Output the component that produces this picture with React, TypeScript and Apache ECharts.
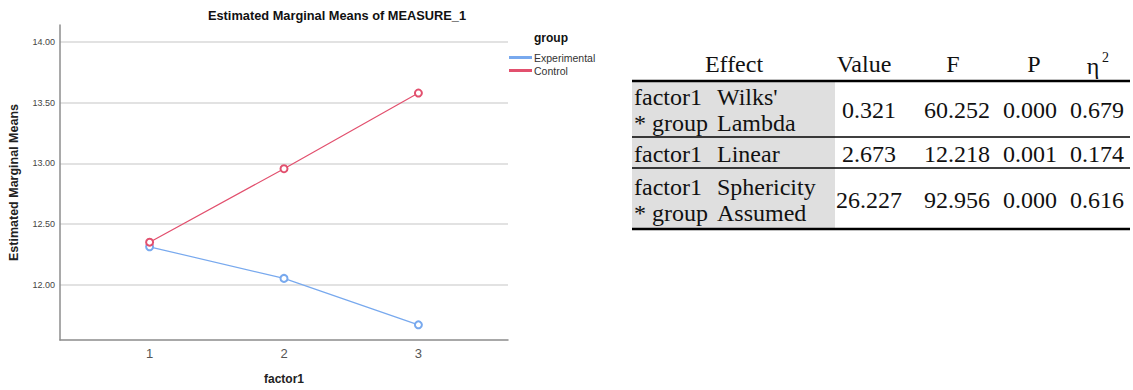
import React, { useEffect, useRef } from "react";
import * as echarts from "echarts";

const chartTitle = "Estimated Marginal Means of MEASURE_1";
const factorLevels = [1, 2, 3];
const experimental = [12.314, 12.054, 11.672];
const control = [12.352, 12.957, 13.58];
const yTicks = [12, 12.5, 13, 13.5, 14];
const groupNames = ["Experimental", "Control"];
const legendTitle = "group";
const xName = "factor1";
const yName = "Estimated Marginal Means";

const tableHeaders = ["Effect", "Value", "F", "P"];
const etaHeader = "η";
const etaSup = "2";
const effectA = [["factor1", "* group"], ["factor1"], ["factor1", "* group"]];
const effectB = [["Wilks'", "Lambda"], ["Linear"], ["Sphericity", "Assumed"]];
const valueCol = ["0.321", "2.673", "26.227"];
const fCol = ["60.252", "12.218", "92.956"];
const pCol = ["0.000", "0.001", "0.000"];
const etaCol = ["0.679", "0.174", "0.616"];

const SANS = "'Liberation Sans', Arial, sans-serif";
const SERIF = "'Liberation Serif', 'Times New Roman', serif";
const BLUE = "#78a9ee";
const RED = "#e2506e";

function buildTable(): any[] {
  const els: any[] = [];
  const left = 632;
  const right = 1130;
  const grayRight = 835;
  const rowBounds = [81, 137, 168, 229];
  const headerY = 64;
  const colA = 634;
  const colB = 717;
  const valueCenters = [869, 957, 1030, 1097];
  const headerCenters = [734, 864, 953, 1034];
  const fs = 24;
  const lh = 26;
  els.push({
    type: "rect",
    shape: { x: left, y: rowBounds[0], width: grayRight - left, height: rowBounds[3] - rowBounds[0] },
    style: { fill: "#dfdfdf" },
    z: 1,
  });
  tableHeaders.forEach((h, i) => {
    els.push({
      type: "text",
      x: headerCenters[i],
      y: headerY,
      style: { text: h, font: `${fs}px ${SERIF}`, fill: "#111", align: "center", verticalAlign: "middle" },
      z: 3,
    });
  });
  els.push({
    type: "text",
    x: 1093,
    y: headerY + 2,
    style: { text: etaHeader, font: `${fs}px ${SERIF}`, fill: "#111", align: "center", verticalAlign: "middle" },
    z: 3,
  });
  els.push({
    type: "text",
    x: 1102,
    y: 57,
    style: { text: etaSup, font: `14px ${SERIF}`, fill: "#111", align: "left", verticalAlign: "middle" },
    z: 3,
  });
  const cols = [valueCol, fCol, pCol, etaCol];
  for (let r = 0; r < 3; r++) {
    const cy = (rowBounds[r] + rowBounds[r + 1]) / 2 + 1;
    [
      { x: colA, lines: effectA[r] },
      { x: colB, lines: effectB[r] },
    ].forEach((cell) => {
      els.push({
        type: "text",
        x: cell.x,
        y: cy,
        style: {
          text: cell.lines.join("\n"),
          font: `${fs}px ${SERIF}`,
          lineHeight: lh,
          fill: "#111",
          align: "left",
          verticalAlign: "middle",
        },
        z: 3,
      });
    });
    cols.forEach((col, c) => {
      els.push({
        type: "text",
        x: valueCenters[c],
        y: cy,
        style: { text: col[r], font: `${fs}px ${SERIF}`, fill: "#111", align: "center", verticalAlign: "middle" },
        z: 3,
      });
    });
  }
  const lines = [
    { y: rowBounds[0], w: 2.5 },
    { y: rowBounds[1], w: 1.5 },
    { y: rowBounds[2], w: 1.5 },
    { y: rowBounds[3], w: 2.5 },
  ];
  lines.forEach((l) => {
    els.push({
      type: "line",
      shape: { x1: left, y1: l.y, x2: right, y2: l.y },
      style: { stroke: "#000", lineWidth: l.w },
      z: 4,
    });
  });
  return els;
}

export default function App() {
  const ref = useRef<HTMLDivElement>(null);
  useEffect(() => {
    document.body.style.margin = "0";
    const chart = echarts.init(ref.current!, null, { renderer: "svg" });
    const option: any = {
      animation: false,
      backgroundColor: "#ffffff",
      textStyle: { fontFamily: SANS },
      grid: { left: 60, right: 625, top: 25, bottom: 46 },
      legend: {
        data: groupNames,
        orient: "vertical",
        left: 509,
        top: 52,
        icon: "rect",
        itemWidth: 21,
        itemHeight: 1,
        itemGap: 2,
        padding: 0,
        textStyle: { fontSize: 10.5, color: "#333", fontFamily: SANS, padding: [0, 0, 0, -2] },
      },
      xAxis: {
        type: "value",
        min: 1 / 3,
        max: 11 / 3,
        splitLine: { show: false },
        axisTick: { show: false, customValues: factorLevels },
        axisLine: { lineStyle: { color: "#8c8c8c", width: 1.5 } },
        axisLabel: {
          customValues: factorLevels,
          fontSize: 13,
          color: "#555",
          margin: 7,
          fontFamily: SANS,
        },
        name: xName,
        nameLocation: "middle",
        nameGap: 33,
        nameTextStyle: { fontWeight: "bold", fontSize: 12, color: "#222", fontFamily: SANS },
      },
      yAxis: {
        type: "value",
        min: 11.547,
        max: 14.14,
        axisLine: { show: true, lineStyle: { color: "#8c8c8c", width: 1.5 } },
        axisTick: { show: false, customValues: yTicks },
        splitLine: { show: true, lineStyle: { color: "#d9d9d9", width: 1.5 } },
        axisLabel: {
          customValues: yTicks,
          formatter: (v: number) => v.toFixed(2),
          fontSize: 9,
          color: "#444",
          margin: 5,
          fontFamily: SANS,
        },
        name: yName,
        nameLocation: "middle",
        nameGap: 40,
        nameTextStyle: { fontWeight: "bold", fontSize: 12.5, color: "#222", fontFamily: SANS },
      },
      series: [
        {
          name: groupNames[0],
          type: "line",
          data: factorLevels.map((x, i) => [x, experimental[i]]),
          symbol: "emptyCircle",
          symbolSize: 7,
          color: BLUE,
          lineStyle: { width: 1.2, color: BLUE },
          itemStyle: { color: BLUE, borderColor: BLUE, borderWidth: 1 },
        },
        {
          name: groupNames[1],
          type: "line",
          data: factorLevels.map((x, i) => [x, control[i]]),
          symbol: "emptyCircle",
          symbolSize: 7,
          color: RED,
          lineStyle: { width: 1.2, color: RED },
          itemStyle: { color: RED, borderColor: RED, borderWidth: 1 },
        },
      ],
      graphic: [
        {
          type: "text",
          x: 337,
          y: 15,
          style: {
            text: chartTitle,
            font: `bold 12.8px ${SANS}`,
            fill: "#111",
            align: "center",
            verticalAlign: "middle",
          },
        },
        {
          type: "text",
          x: 534,
          y: 38,
          style: {
            text: legendTitle,
            font: `bold 12px ${SANS}`,
            fill: "#111",
            align: "left",
            verticalAlign: "middle",
          },
        },
        ...buildTable(),
      ],
    };
    chart.setOption(option);
    return () => chart.dispose();
  }, []);
  return <div ref={ref} style={{ width: 1133, height: 390 }} />;
}
